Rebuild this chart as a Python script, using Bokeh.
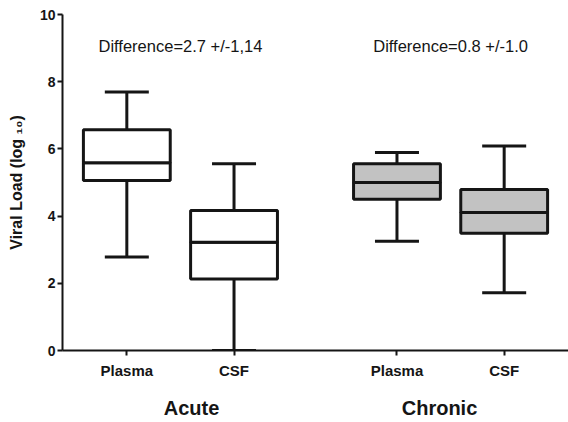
from bokeh.plotting import figure
from bokeh.models import FactorRange, Whisker, ColumnDataSource, TeeHead, CategoricalAxis
from bokeh.embed import file_html
from bokeh.resources import INLINE

# ---- data ----
groups = ["Acute", "Acute", "Chronic", "Chronic"]
samples = ["Plasma", "CSF", "Plasma", "CSF"]
whisker_low = [2.78, 0.0, 3.25, 1.72]
q1 = [5.06, 2.13, 4.50, 3.49]
median = [5.59, 3.22, 5.00, 4.11]
q3 = [6.57, 4.17, 5.56, 4.79]
whisker_high = [7.69, 5.56, 5.89, 6.09]
box_fill = ["white", "white", "#c2c2c2", "#c2c2c2"]
group_names = ["Acute", "Chronic"]
differences = ["Difference=2.7 +/-1,14", "Difference=0.8 +/-1.0"]
y_ticks = [0, 2, 4, 6, 8, 10]

factors = list(zip(groups, samples))
INK = "#151515"
FONT = "Liberation Sans"

x_range = FactorRange(*factors, group_padding=0.52, range_padding=0.1,
                      range_padding_units="absolute")

p = figure(width=568, height=421, x_range=x_range, y_range=(0, 10),
           output_backend="svg", toolbar_location=None,
           min_border_left=62, min_border_right=0, min_border_top=14,
           min_border_bottom=40)
p.outline_line_color = None
p.xgrid.visible = False
p.ygrid.visible = False
p.background_fill_color = "white"
p.border_fill_color = "white"

# separate range for the big group captions under the axis
p.extra_x_ranges = {"grp": FactorRange(*group_names, range_padding=0.02,
                                       range_padding_units="absolute")}

src = ColumnDataSource(dict(x=factors, lo=whisker_low, q1=q1, med=median,
                            q3=q3, hi=whisker_high, fill=box_fill))

w = Whisker(source=src, base="x", lower="lo", upper="hi", level="underlay",
            line_color=INK, line_width=3,
            upper_head=TeeHead(size=44, line_color=INK, line_width=3),
            lower_head=TeeHead(size=44, line_color=INK, line_width=3))
p.add_layout(w)

box_w = 0.81
p.vbar(x="x", bottom="q1", top="med", width=box_w, source=src,
       fill_color="fill", line_color=INK, line_width=3)
p.vbar(x="x", bottom="med", top="q3", width=box_w, source=src,
       fill_color="fill", line_color=INK, line_width=3)

p.text(x=group_names, y=[9.05, 9.05], text=differences,
       text_align="center", text_baseline="middle",
       text_font={"value": FONT}, text_font_size="16.5px", text_color=INK)

# y axis
p.yaxis.ticker = y_ticks
p.yaxis.axis_label = "Viral Load (log \u2081\u2080)"
p.yaxis.axis_label_text_font = FONT
p.yaxis.axis_label_text_font_size = "16px"
p.yaxis.axis_label_text_font_style = "bold"
p.yaxis.axis_label_text_color = INK
p.yaxis.axis_label_standoff = 12
p.yaxis.major_label_text_font = FONT
p.yaxis.major_label_text_font_size = "14px"
p.yaxis.major_label_text_font_style = "bold"
p.yaxis.major_label_text_color = INK
p.yaxis.major_tick_in = 0
p.yaxis.major_tick_out = 5
p.yaxis.minor_tick_line_color = None
p.yaxis.axis_line_width = 2
p.yaxis.axis_line_color = INK
p.yaxis.major_tick_line_width = 2
p.yaxis.major_tick_line_color = INK
p.yaxis.major_label_standoff = 2

# x axis (sample labels; group level hidden, drawn by the second axis)
p.xaxis.axis_line_width = 2
p.xaxis.axis_line_color = INK
p.xaxis.major_tick_in = 0
p.xaxis.major_tick_out = 5
p.xaxis.major_tick_line_width = 2
p.xaxis.major_tick_line_color = INK
p.xaxis.major_label_text_font = FONT
p.xaxis.major_label_text_font_size = "15px"
p.xaxis.major_label_text_font_style = "bold"
p.xaxis.major_label_text_color = INK
p.xaxis.major_label_standoff = 6
p.xaxis.group_text_font_size = "0px"
p.xaxis.group_text_color = None
p.xaxis.separator_line_color = None

gax = CategoricalAxis(x_range_name="grp", axis_line_color=None,
                      major_tick_line_color=None, minor_tick_line_color=None,
                      major_label_standoff=9,
                      major_label_text_font=FONT,
                      major_label_text_font_size="20px",
                      major_label_text_font_style="bold",
                      major_label_text_color=INK)
p.add_layout(gax, "below")

open("out.html", "w").write(file_html(p, INLINE))
